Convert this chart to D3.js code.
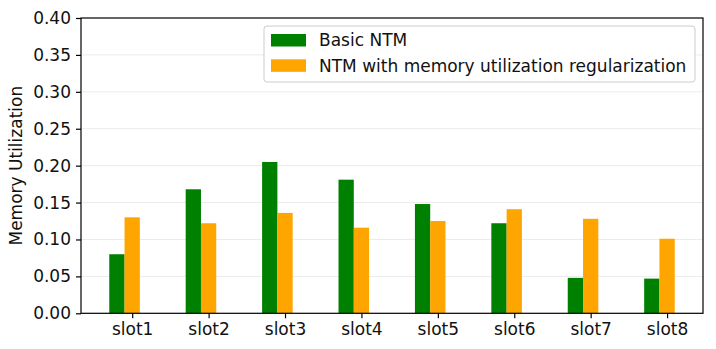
<!DOCTYPE html>
<html><head><meta charset="utf-8">
<script src="https://cdn.jsdelivr.net/npm/d3@7/dist/d3.min.js"></script>
<style>body{margin:0;background:#fff}svg{display:block}text{font-family:"DejaVu Sans",sans-serif;fill:#111}</style>
</head><body><svg id="c" width="716" height="349"></svg>
<script>
const categories = ["slot1","slot2","slot3","slot4","slot5","slot6","slot7","slot8"];
const basicNTM = [0.080,0.168,0.205,0.181,0.148,0.122,0.048,0.047];
const regNTM = [0.130,0.122,0.136,0.116,0.125,0.141,0.128,0.101];
const seriesNames = ["Basic NTM","NTM with memory utilization regularization"];
const seriesColors = ["#008000","#ffa500"];
const yTicks = [0,0.05,0.10,0.15,0.20,0.25,0.30,0.35,0.40];

const svg = d3.select("#c");
const L=81,R=703,T=18,B=313.3;
const FS=17;
const x = d3.scaleLinear().domain([-0.67,7.47]).range([L,R]);
const y = d3.scaleLinear().domain([0,0.4]).range([B,T]);
const bw = 0.2;

// grid
svg.append("g").selectAll("line").data(yTicks.slice(1,-1)).join("line")
  .attr("x1",L).attr("x2",R).attr("y1",d=>y(d)).attr("y2",d=>y(d))
  .attr("stroke","#ebebeb").attr("stroke-width",1);

const series = [basicNTM, regNTM];
const offsets = [-0.2, 0];
series.forEach((vals,s)=>{
  svg.append("g").selectAll("rect").data(vals).join("rect")
    .attr("x",(d,i)=>x(i+offsets[s]-bw/2))
    .attr("width",(d,i)=>x(i+offsets[s]+bw/2)-x(i+offsets[s]-bw/2))
    .attr("y",d=>y(d)).attr("height",d=>y(0)-y(d))
    .attr("fill",seriesColors[s]);
});

// frame
svg.append("rect").attr("x",L).attr("y",T).attr("width",R-L).attr("height",B-T)
  .attr("fill","none").attr("stroke","#000").attr("stroke-width",1.2);

const yAxis = svg.append("g").attr("transform",`translate(${L},0)`)
  .call(d3.axisLeft(y).tickValues(yTicks).tickFormat(d3.format(".2f")).tickSize(5).tickPadding(5));
const xAxis = svg.append("g").attr("transform",`translate(0,${B})`)
  .call(d3.axisBottom(x).tickValues(d3.range(categories.length)).tickFormat(i=>categories[i]).tickSize(5).tickPadding(5));
[yAxis,xAxis].forEach(a=>{
  a.select(".domain").remove();
  a.selectAll("line").attr("stroke","#000").attr("stroke-width",1.2);
  a.selectAll("text").attr("font-size",FS).attr("font-family","DejaVu Sans").attr("fill","#111");
});

svg.append("text").attr("transform",`translate(16,${(T+B)/2}) rotate(-90)`)
  .attr("text-anchor","middle").attr("dy","0.35em").attr("font-size",FS).text("Memory Utilization");

// legend
const lg = svg.append("g");
lg.append("rect").attr("x",264).attr("y",26).attr("width",431).attr("height",56).attr("rx",3)
  .attr("fill","#fff").attr("fill-opacity",0.9).attr("stroke","#cccccc");
seriesNames.forEach((n,i)=>{
  lg.append("rect").attr("x",271).attr("y",34+i*25.3).attr("width",35).attr("height",12.5).attr("fill",seriesColors[i]);
  lg.append("text").attr("x",319).attr("y",40.5+i*25.3).attr("dy","0.35em").attr("font-size",FS).text(n);
});
</script></body></html>
